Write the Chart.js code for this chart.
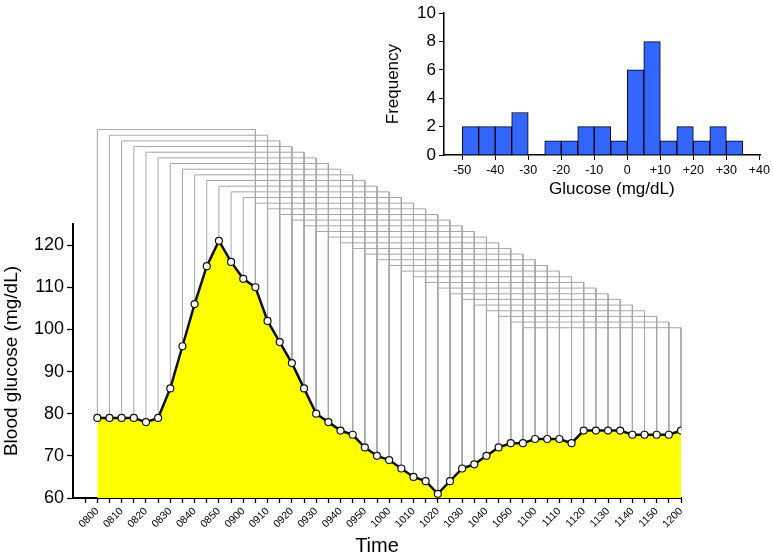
<!DOCTYPE html>
<html>
<head>
<meta charset="utf-8">
<script src="https://cdn.jsdelivr.net/npm/chart.js@4.4.1/dist/chart.umd.min.js"></script>
<style>
    html, body { margin: 0; padding: 0; background: #fff; }
    #wrap { position: relative; width: 773px; height: 558px; }
    #mainChart { position: absolute; left: 0; top: 0; }
    #histChart { position: absolute; left: 376px; top: 0; }
</style>
</head>
<body>
<div id="wrap">
    <canvas id="mainChart" width="773" height="558"></canvas>
    <canvas id="histChart" width="397" height="200"></canvas>
</div>
<script>
// blood glucose every 5 minutes, 0800 -> 1200
const glucose = [
    79, 79, 79, 79, 78, 79, 86, 96, 106, 115,
    121, 116, 112, 110, 102, 97, 92, 86, 80, 78,
    76, 75, 72, 70, 69, 67, 65, 64, 61, 64,
    67, 68, 70, 72, 73, 73, 74, 74, 74, 73,
    76, 76, 76, 76, 75, 75, 75, 75, 76
];
const timeLabels = [
    '0800', '0810', '0820', '0830', '0840', '0850', '0900', '0910', '0920',
    '0930', '0940', '0950', '1000', '1010', '1020', '1030', '1040', '1050',
    '1100', '1110', '1120', '1130', '1140', '1150', '1200'
];

// histogram of glucose changes
const binStarts = [-50, -45, -40, -35, -30, -25, -20, -15, -10, -5, 0, 5, 10, 15, 20, 25, 30];
const binCounts = [2, 2, 2, 3, 0, 1, 1, 2, 2, 1, 6, 8, 1, 2, 1, 2, 1];
const histTicks = [-50, -40, -30, -20, -10, 0, 10, 20, 30, 40];
const histTickLabels = ['-50', '-40', '-30', '-20', '-10', '0', '+10', '+20', '+30', '+40'];

const LAG = 13;            // points between the two legs of a bracket
const BRACKET_TOP = 147.4; // level of first bracket
const BRACKET_STEP = 1.343;

Chart.defaults.font.family = "'Liberation Sans', Arial, sans-serif";
Chart.defaults.color = '#000';
Chart.defaults.animation = false;

// ---- main chart ----
const datasets = [{
    data: glucose.map((v, i) => ({ x: i, y: v })),
    borderColor: '#111',
    borderWidth: 2.5,
    backgroundColor: '#ffff00',
    fill: 'start',
    pointRadius: 3.5,
    pointBackgroundColor: '#fff',
    pointBorderColor: '#111',
    pointBorderWidth: 1.2,
    tension: 0
}];

for (let k = 0; k + LAG < glucose.length; k++) {
    const level = BRACKET_TOP - k * BRACKET_STEP;
    datasets.push({
        data: [
            { x: k, y: glucose[k] },
            { x: k, y: level },
            { x: k + LAG, y: level },
            { x: k + LAG, y: glucose[k + LAG] }
        ],
        borderColor: '#a6a6a6',
        borderWidth: 1,
        pointRadius: 0,
        fill: false,
        tension: 0,
        clip: false
    });
}

new Chart(document.getElementById('mainChart'), {
    type: 'line',
    data: { datasets: datasets },
    options: {
        responsive: false,
        layout: { padding: { left: 0, right: 92, top: 224, bottom: 0 } },
        plugins: { legend: { display: false }, tooltip: { enabled: false } },
        scales: {
            x: {
                type: 'linear',
                min: -2,
                max: 48,
                afterBuildTicks: s => {
                    const t = [];
                    for (let i = -1; i <= 48; i++) t.push({ value: i });
                    s.ticks = t;
                },
                afterFit: s => { s.height = 60; },
                ticks: {
                    autoSkip: false,
                    minRotation: 45,
                    maxRotation: 45,
                    padding: 2,
                    font: { size: 10.5 },
                    callback: v => (v >= 0 && v % 2 === 0) ? timeLabels[v / 2] : ''
                },
                grid: { drawOnChartArea: false, tickLength: 5, tickColor: '#000', tickWidth: 1.3 },
                border: { color: '#000', width: 2 },
                title: { display: true, text: 'Time', font: { size: 20 }, padding: { top: 0, bottom: 0 } }
            },
            y: {
                min: 60,
                max: 125,
                afterFit: s => { s.width = 73; },
                ticks: { stepSize: 10, includeBounds: false, font: { size: 18 }, padding: 3 },
                grid: { drawOnChartArea: false, tickLength: 6, tickColor: '#000', tickWidth: 1.3 },
                border: { color: '#000', width: 2 },
                title: { display: true, text: 'Blood glucose (mg/dL)', font: { size: 19 }, padding: { top: 0, bottom: 2 } }
            }
        }
    }
});

// ---- histogram inset ----
new Chart(document.getElementById('histChart'), {
    type: 'bar',
    data: {
        datasets: [{
            data: binStarts.map((b, i) => ({ x: b + 2.5, y: binCounts[i] })),
            backgroundColor: '#3366ff',
            borderColor: '#000',
            borderWidth: 1,
            barPercentage: 1,
            categoryPercentage: 1
        }]
    },
    options: {
        responsive: false,
        layout: { padding: { left: 0, right: 7, top: 9, bottom: 0 } },
        plugins: { legend: { display: false }, tooltip: { enabled: false } },
        scales: {
            x: {
                type: 'linear',
                min: -55.5,
                max: 40.4,
                offset: false,
                afterBuildTicks: s => { s.ticks = histTicks.map(v => ({ value: v })); },
                afterFit: s => { s.height = 45; },
                ticks: {
                    autoSkip: false,
                    maxRotation: 0,
                    font: { size: 12.5 },
                    padding: 3,
                    callback: (v, i) => histTickLabels[i]
                },
                grid: { offset: false, drawOnChartArea: false, tickLength: 5, tickColor: '#000' },
                border: { color: '#000', width: 1.5 },
                title: { display: true, text: '    Glucose (mg/dL)', font: { size: 17 }, padding: { top: 1, bottom: 0 } }
            },
            y: {
                min: 0,
                max: 10,
                afterFit: s => { s.width = 68; },
                ticks: { stepSize: 2, font: { size: 17 }, padding: 3 },
                grid: { drawOnChartArea: false, tickLength: 5, tickColor: '#000' },
                border: { color: '#000', width: 1.5 },
                title: { display: true, text: 'Frequency', font: { size: 17 }, padding: { top: 7, bottom: 2 } }
            }
        }
    }
});
</script>
</body>
</html>
